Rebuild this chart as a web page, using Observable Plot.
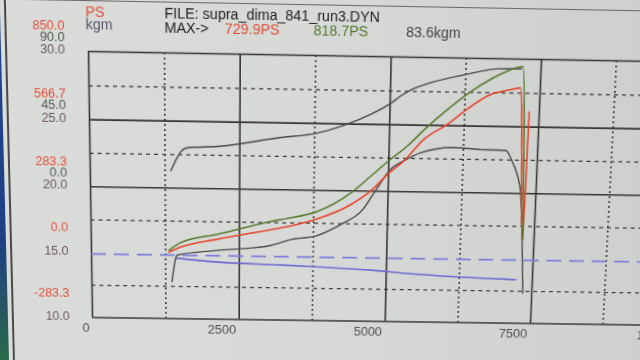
<!DOCTYPE html>
<html><head><meta charset="utf-8">
<script src="https://cdn.jsdelivr.net/npm/d3@7"></script>
<script src="https://cdn.jsdelivr.net/npm/@observablehq/plot@0.6"></script>
<style>
html,body{margin:0;padding:0;width:640px;height:360px;overflow:hidden;}
body{background:linear-gradient(90deg,#dadcd9 0%,#d6d9d6 50%,#cdd0cd 100%);position:relative;}
#wrap{position:absolute;left:0;top:0;width:640px;height:360px;transform-origin:0 0;font-family:"Liberation Sans",Arial,sans-serif;filter:blur(0.3px);}
#wrap svg{overflow:visible;background:transparent;display:block;}
.h{position:absolute;white-space:nowrap;font-size:14px;line-height:14px;font-family:"Liberation Sans",Arial,sans-serif;}
#strip{position:absolute;left:-12px;top:-10px;width:17px;height:380px;background:linear-gradient(#23458f,#1d3f85 65%,#2b6b45);}
#edge{position:absolute;left:9px;top:-10px;width:1.6px;height:380px;background:#4a4a4a;}
#topedge{position:absolute;left:0;top:2px;width:700px;height:1.2px;background:#6a6a6a;}
</style></head><body>
<div id="wrap"><div id="strip"></div><div id="edge"></div><div id="topedge"></div></div>
<script>
// ---------- data ----------
const fileName = "FILE: supra_dima_841_run3.DYN";
const maxRedPS = 729.9, maxGreenPS = 818.7, maxKgm = 83.6;

const xTicks = [0, 2500, 5000, 7500, 10000];
const xMinor = [1250, 3750, 6250, 8750];

const psLevels  = [850, 566.67, 283.33, 0, -283.33];   // PS scale labels (red)
const kgmLevels = [90, 45, 0];                           // kgm scale labels
const afrLevels = [30, 25, 20, 15, 10];                  // third scale labels
const psMinor   = [708.33, 425, 141.67, -141.67];

const greenRpm = [1307,1512,2134,3204,3372,3794,4378,4710,5003,5315,5610,5971,6296,6671,6949,7196,7308];
const greenPS  = [15,50,88,156,164,191,275,349,415,480,555,637,703,765,800,818.7,85];

const redRpm = [1307,1540,2134,3204,3372,3794,4378,4710,5012,5258,5579,5971,6296,6671,6949,7170,7308,7330];
const redPS  = [7,33,67,120,129,159,225,285,363,416,507,573,639,700,719,729.9,85,630];

const torqueRpm = [1347,1552,1652,2132,3191,3776,4242,4690,5020,5181,5346,5678,6288,6783,7170];
const torqueKgm = [11.7,26.1,27.5,28.5,35.3,38.4,44.1,51.9,59.5,64.5,68.5,73.5,79.6,83.3,83.6];

const lowRpm = [1357,1427,1448,2139,3038,3376,3798,4219,4583,4764,5040,5258,5538,6072,6541,6961,7086,7177,7239,7346];
const lowPS  = [-121,-14,-5,18,43,70,87,139,205,276,380,416,451,475,468,466,415,359,287,-150];

const afrRpm = [1427,2140,3211,3805,4741,5427,7217];
const afrVal = [14.68,14.42,14.27,14.16,13.97,13.73,13.40];
const afrRef = 14.9;

// ---------- scale conversions onto the shared PS axis ----------
const psStep = 850 / 3;
const kgmToPS = k => psStep + (k / 45) * psStep;
const afrToPS = a => ((a - 15) / 5) * psStep;

const zip = (xs, ys, f = v => v) => xs.map((x, i) => ({rpm: x, v: f(ys[i])}));
const green = zip(greenRpm, greenPS);
const red = zip(redRpm, redPS);
const torque = zip(torqueRpm, torqueKgm, kgmToPS);
const low = zip(lowRpm, lowPS);
const afr = zip(afrRpm, afrVal, afrToPS);

const x0 = xTicks[0], x1 = xTicks[xTicks.length - 1];
const solidH = [psLevels[0], psLevels[1], psLevels[2], psLevels[4]];
const font = "Liberation Sans, Arial, sans-serif";
const cv = "monotone-x";

const chart = Plot.plot({
  width: 640, height: 360,
  marginLeft: 90, marginRight: 0, marginTop: 51, marginBottom: 42.5,
  x: {domain: [x0, x1], range: [90, 684.7], axis: null},
  y: {domain: [psLevels[4], psLevels[0]], axis: null},
  style: {background: "transparent", overflow: "visible", fontFamily: font},
  marks: [
    Plot.ruleY(psMinor, {x1: x0, x2: x1, stroke: "#3c3c3c", strokeWidth: 1.3, strokeDasharray: "4,4"}),
    Plot.ruleX(xMinor, {stroke: "#3c3c3c", strokeWidth: 1.6, strokeDasharray: "2,3"}),
    Plot.ruleY(solidH, {x1: x0, x2: x1, stroke: "#3a3434", strokeWidth: 1.6}),
    Plot.ruleX(xTicks, {stroke: "#3a3434", strokeWidth: 1.6}),
    Plot.ruleY([afrToPS(afrRef)], {x1: x0, x2: x1, stroke: "#7c7cdc", strokeWidth: 1.7, strokeDasharray: "15,8"}),
    Plot.line(afr, {x: "rpm", y: "v", stroke: "#6a6ad2", strokeWidth: 1.6, curve: cv}),
    Plot.line(low, {x: "rpm", y: "v", stroke: "#4a4a4a", strokeWidth: 1.4, curve: cv}),
    Plot.line(torque, {x: "rpm", y: "v", stroke: "#4a4a4a", strokeWidth: 1.4, curve: cv}),
    Plot.line(red, {x: "rpm", y: "v", stroke: "#e8442c", strokeWidth: 1.6, curve: cv}),
    Plot.line(green, {x: "rpm", y: "v", stroke: "#56782f", strokeWidth: 1.5, curve: cv}),
    Plot.text(xTicks, {x: d => d, text: d => String(d), frameAnchor: "bottom", lineAnchor: "top", dy: 6, dx: -3,
      textAnchor: "end", fontSize: 13, fill: "#4e4e4e"}),
    Plot.text(psLevels, {y: d => d, text: d => d.toFixed(1), frameAnchor: "left", textAnchor: "end",
      dx: -23, dy: -25, fontSize: 12.5, fill: "#e0503a"}),
    Plot.text(kgmLevels, {y: d => kgmToPS(d), text: d => d.toFixed(1), frameAnchor: "left", textAnchor: "end",
      dx: -23, dy: -14, fontSize: 12.5, fill: "#535b53"}),
    Plot.text(afrLevels, {y: d => afrToPS(d), text: d => d.toFixed(1), frameAnchor: "left", textAnchor: "end",
      dx: -23, dy: -1.5, fontSize: 12.5, fill: "#6e5868"})
  ]
});
const wrap = document.getElementById("wrap");
wrap.appendChild(chart);

// header texts
const hdr = [
  ["PS", 88, 6, "#e0503a"],
  ["kgm", 88, 18, "#55566a"],
  [fileName, 165, 6, "#222"],
  ["MAX->", 165, 20, "#222"],
  [maxRedPS.toFixed(1) + "PS", 224, 20, "#e0503a"],
  [maxGreenPS.toFixed(1) + "PS", 311, 20, "#56782f"],
  [maxKgm.toFixed(1) + "kgm", 402, 20, "#444"]
];
for (const [t, l, tp, c] of hdr) {
  const d = document.createElement("div");
  d.className = "h"; d.textContent = t;
  d.style.left = l + "px"; d.style.top = tp + "px"; d.style.color = c;
  wrap.appendChild(d);
}

// camera perspective of the photographed screen
function solve(A, b) {
  const n = b.length;
  for (let i = 0; i < n; i++) {
    let p = i;
    for (let r = i + 1; r < n; r++) if (Math.abs(A[r][i]) > Math.abs(A[p][i])) p = r;
    [A[i], A[p]] = [A[p], A[i]]; [b[i], b[p]] = [b[p], b[i]];
    for (let r = i + 1; r < n; r++) {
      const f = A[r][i] / A[i][i];
      for (let c = i; c < n; c++) A[r][c] -= f * A[i][c];
      b[r] -= f * b[i];
    }
  }
  const x = new Array(n);
  for (let i = n - 1; i >= 0; i--) {
    let s = b[i];
    for (let c = i + 1; c < n; c++) s -= A[i][c] * x[c];
    x[i] = s / A[i][i];
  }
  return x;
}
const src = [[90, 51], [536, 51], [90, 317.5], [536, 317.5]];
const dst = [[88, 51], [541, 59], [92, 317], [530, 323]];
const A = [], b = [];
for (let i = 0; i < 4; i++) {
  const [x, y] = src[i], [u, v] = dst[i];
  A.push([x, y, 1, 0, 0, 0, -u * x, -u * y]); b.push(u);
  A.push([0, 0, 0, x, y, 1, -v * x, -v * y]); b.push(v);
}
const h = solve(A, b);
wrap.style.transform = `matrix3d(${h[0]},${h[3]},0,${h[6]},${h[1]},${h[4]},0,${h[7]},0,0,1,0,${h[2]},${h[5]},0,1)`;
</script>
</body></html>
